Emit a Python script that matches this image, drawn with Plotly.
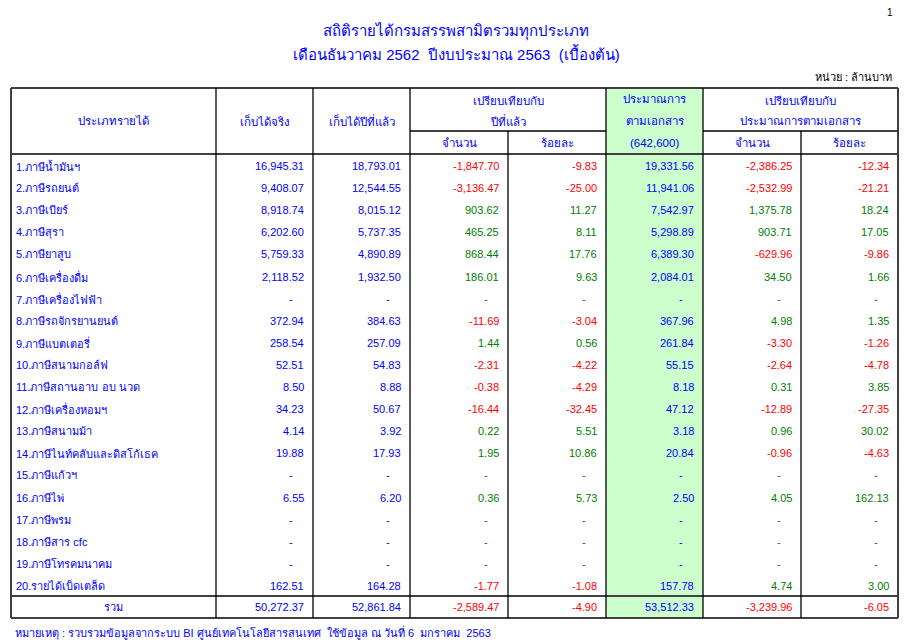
import plotly.graph_objects as go

# ---------------- data ----------------
categories = [
    "1.ภาษีน้ำมันฯ", "2.ภาษีรถยนต์", "3.ภาษีเบียร์", "4.ภาษีสุรา", "5.ภาษียาสูบ",
    "6.ภาษีเครื่องดื่ม", "7.ภาษีเครื่องไฟฟ้า", "8.ภาษีรถจักรยานยนต์", "9.ภาษีแบตเตอรี่",
    "10.ภาษีสนามกอล์ฟ", "11.ภาษีสถานอาบ อบ นวด", "12.ภาษีเครื่องหอมฯ", "13.ภาษีสนามม้า",
    "14.ภาษีไนท์คลับและดิสโก้เธค", "15.ภาษีแก้วฯ", "16.ภาษีไพ่", "17.ภาษีพรม",
    "18.ภาษีสาร cfc", "19.ภาษีโทรคมนาคม", "20.รายได้เบ็ดเตล็ด",
]
actual = [16945.31, 9408.07, 8918.74, 6202.60, 5759.33, 2118.52, None, 372.94, 258.54,
          52.51, 8.50, 34.23, 4.14, 19.88, None, 6.55, None, None, None, 162.51]
last_year = [18793.01, 12544.55, 8015.12, 5737.35, 4890.89, 1932.50, None, 384.63, 257.09,
             54.83, 8.88, 50.67, 3.92, 17.93, None, 6.20, None, None, None, 164.28]
diff_ly = [-1847.70, -3136.47, 903.62, 465.25, 868.44, 186.01, None, -11.69, 1.44,
           -2.31, -0.38, -16.44, 0.22, 1.95, None, 0.36, None, None, None, -1.77]
pct_ly = [-9.83, -25.00, 11.27, 8.11, 17.76, 9.63, None, -3.04, 0.56,
          -4.22, -4.29, -32.45, 5.51, 10.86, None, 5.73, None, None, None, -1.08]
budget = [19331.56, 11941.06, 7542.97, 5298.89, 6389.30, 2084.01, None, 367.96, 261.84,
          55.15, 8.18, 47.12, 3.18, 20.84, None, 2.50, None, None, None, 157.78]
diff_b = [-2386.25, -2532.99, 1375.78, 903.71, -629.96, 34.50, None, 4.98, -3.30,
          -2.64, 0.31, -12.89, 0.96, -0.96, None, 4.05, None, None, None, 4.74]
pct_b = [-12.34, -21.21, 18.24, 17.05, -9.86, 1.66, None, 1.35, -1.26,
         -4.78, 3.85, -27.35, 30.02, -4.63, None, 162.13, None, None, None, 3.00]
total_label = "รวม"
totals = [50272.37, 52861.84, -2589.47, -4.90, 53512.33, -3239.96, -6.05]

title1 = "สถิติรายได้กรมสรรพสามิตรวมทุกประเภท"
title2 = "เดือนธันวาคม 2562  ปีงบประมาณ 2563  (เบื้องต้น)"
unit_text = "หน่วย : ล้านบาท"
page_no = "1"
footnote = "หมายเหตุ : รวบรวมข้อมูลจากระบบ BI ศูนย์เทคโนโลยีสารสนเทศ  ใช้ข้อมูล ณ วันที่ 6  มกราคม  2563"

# ---------------- layout constants ----------------
BLUE = "#0000FF"
GREEN = "#008000"
RED = "#FF0000"
FILL = "#CCFFCC"
GRAY = "#404040"
FONT = "Tahoma, 'Liberation Sans', 'Noto Sans', sans-serif"
FS = 11
HS = 11.5

col_x = [11, 216, 313, 410, 508, 606, 703, 801, 898]
top_y = 88
sub_y = 131
head_bot = 154
row_h = 22.1
first_c = 166
total_top = 596
bot_y = 618
OFF = 8  # page body margin

shapes = []
ann = []


def text(x, y, s, color=BLUE, size=FS, anchor="center"):
    ann.append(dict(x=x, y=y, xref="x", yref="y", text=s, showarrow=False,
                    xanchor=anchor, yanchor="middle",
                    font=dict(family=FONT, size=size, color=color)))


def fmt(v):
    if v is None:
        return "-"
    return f"{v:,.2f}"


def sign_color(v):
    if v is None:
        return GREEN
    return RED if v < 0 else GREEN


def mid(a, b):
    return (col_x[a] + col_x[b]) / 2


# green budget column fill
shapes.append(dict(type="rect", xref="x", yref="y", x0=col_x[5], x1=col_x[6],
                   y0=top_y, y1=bot_y, fillcolor=FILL, line=dict(width=0), layer="below"))

# horizontal lines
for y0, xa, xb in [(top_y, col_x[0], col_x[8]), (head_bot, col_x[0], col_x[8]),
                   (total_top, col_x[0], col_x[8]), (bot_y, col_x[0], col_x[8]),
                   (sub_y, col_x[3], col_x[5]), (sub_y, col_x[6], col_x[8])]:
    shapes.append(dict(type="line", xref="x", yref="y", x0=xa, x1=xb, y0=y0, y1=y0,
                       line=dict(color=GRAY, width=2)))

# vertical lines
for i, cx in enumerate(col_x):
    if i in (0, 8):
        line = dict(color=GRAY, width=2)
        y_start = top_y
    elif i in (4, 7):
        line = dict(color="black", width=1.3)
        y_start = sub_y
    else:
        line = dict(color="black", width=1.3)
        y_start = top_y
    shapes.append(dict(type="line", xref="x", yref="y", x0=cx, x1=cx, y0=y_start, y1=bot_y,
                       line=line))

# titles
text(890, 12, page_no, color="black", size=10)
text(456, 31, title1, size=15)
text(456, 53, title2, size=15)
text(894, 77, unit_text, color="black", size=FS, anchor="right")

# headers
text(mid(0, 1), 121, "ประเภทรายได้", size=HS)
text(mid(1, 2), 121, "เก็บได้จริง", size=HS)
text(mid(2, 3), 121, "เก็บได้ปีที่แล้ว", size=HS)
text(mid(3, 5), 101, "เปรียบเทียบกับ", size=HS)
text(mid(3, 5), 121, "ปีที่แล้ว", size=HS)
text(mid(3, 4), 143, "จำนวน", size=HS)
text(mid(4, 5), 143, "ร้อยละ", size=HS)
text(mid(5, 6), 99, "ประมาณการ", size=HS)
text(mid(5, 6), 121, "ตามเอกสาร", size=HS)
text(mid(5, 6), 143, "(642,600)", size=HS)
text(mid(6, 8), 101, "เปรียบเทียบกับ", size=HS)
text(mid(6, 8), 121, "ประมาณการตามเอกสาร", size=HS)
text(mid(6, 7), 143, "จำนวน", size=HS)
text(mid(7, 8), 143, "ร้อยละ", size=HS)

# body rows
pad = 7
for i, cat in enumerate(categories):
    y = first_c + row_h * i
    text(col_x[0] + 3, y, cat, anchor="left")
    cols = [
        (actual[i], BLUE), (last_year[i], BLUE),
        (diff_ly[i], sign_color(diff_ly[i])), (pct_ly[i], sign_color(pct_ly[i])),
        (budget[i], BLUE),
        (diff_b[i], sign_color(diff_b[i])), (pct_b[i], sign_color(pct_b[i])),
    ]
    for j, (v, c) in enumerate(cols):
        if v is None:
            text(col_x[j + 2] - 22, y, "-", color=c, anchor="center")
        else:
            text(col_x[j + 2] - pad, y, fmt(v), color=c, anchor="right")

# total row
ty = (total_top + bot_y) / 2
text(mid(0, 1), ty, total_label)
tcolors = [BLUE, BLUE, None, None, BLUE, None, None]
for j, v in enumerate(totals):
    c = tcolors[j] or sign_color(v)
    text(col_x[j + 2] - pad, ty, fmt(v), color=c, anchor="right")

# footnote
text(13, 632, footnote, anchor="left")

fig = go.Figure()
fig.update_layout(
    width=910, height=644,
    margin=dict(l=0, r=0, t=0, b=0),
    paper_bgcolor="white", plot_bgcolor="white",
    xaxis=dict(range=[OFF, 910 + OFF], visible=False, fixedrange=True),
    yaxis=dict(range=[644 + OFF, OFF], visible=False, fixedrange=True),
    shapes=shapes, annotations=ann, showlegend=False,
)
fig.write_html("out.html")
